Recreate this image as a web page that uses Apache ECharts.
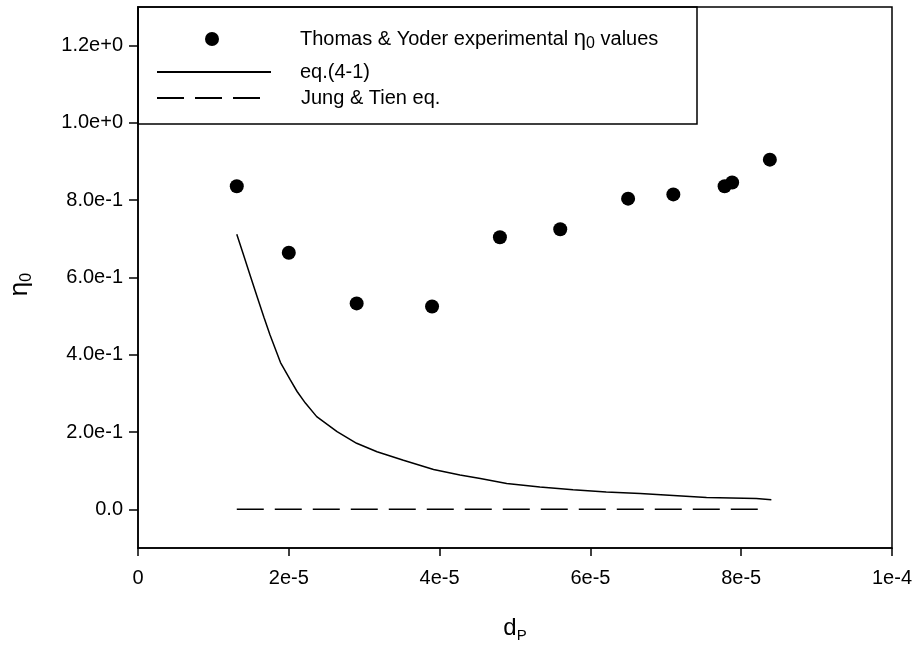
<!DOCTYPE html>
<html>
<head>
<meta charset="utf-8">
<script src="https://cdn.jsdelivr.net/npm/echarts@6/dist/echarts.min.js"></script>
<style>html,body{margin:0;padding:0;background:#fff}#c{width:914px;height:646px}</style>
</head>
<body>
<div id="c"></div>
<script>
// ---- data ----
const expX = [1.31e-5, 2.0e-5, 2.9e-5, 3.9e-5, 4.8e-5, 5.6e-5, 6.5e-5, 7.1e-5, 7.78e-5, 7.88e-5, 8.38e-5];
const expY = [0.836, 0.664, 0.533, 0.525, 0.704, 0.725, 0.804, 0.815, 0.836, 0.846, 0.905];

const eqX = [1.31e-5, 1.40e-5, 1.49e-5, 1.58e-5, 1.67e-5, 1.75e-5, 1.89e-5, 2.02e-5, 2.11e-5, 2.22e-5, 2.37e-5, 2.64e-5, 2.90e-5, 3.17e-5, 3.52e-5, 3.92e-5, 4.27e-5, 4.54e-5, 4.89e-5, 5.33e-5, 5.77e-5, 6.21e-5, 6.66e-5, 7.10e-5, 7.54e-5, 8.20e-5, 8.40e-5];
const eqY = [0.712, 0.658, 0.604, 0.550, 0.497, 0.452, 0.380, 0.335, 0.305, 0.275, 0.240, 0.201, 0.171, 0.149, 0.127, 0.103, 0.089, 0.080, 0.067, 0.058, 0.051, 0.045, 0.041, 0.036, 0.031, 0.028, 0.025];

const jtX = [1.31e-5, 2.0e-5, 3.0e-5, 4.0e-5, 5.0e-5, 6.0e-5, 7.0e-5, 8.28e-5];
const jtY = [0.0, 0.0, 0.0, 0.0, 0.0, 0.0, 0.0, 0.0];

const xTickValues = [0, 2e-5, 4e-5, 6e-5, 8e-5, 1e-4];
const xTickLabels = ['0', '2e-5', '4e-5', '6e-5', '8e-5', '1e-4'];
const yTickValues = [0, 0.2, 0.4, 0.6, 0.8, 1.0, 1.2];
const yTickLabels = ['0.0', '2.0e-1', '4.0e-1', '6.0e-1', '8.0e-1', '1.0e+0', '1.2e+0'];

const seriesNames = ['Thomas & Yoder experimental η0 values', 'eq.(4-1)', 'Jung & Tien eq.'];

// ---- chart ----
const zip = (a, b) => a.map((v, i) => [v, b[i]]);
function lookup(vals, labels, v) {
  for (let i = 0; i < vals.length; i++) if (Math.abs(vals[i] - v) < 1e-9 * Math.max(1, Math.abs(vals[i])) + 1e-12) return labels[i];
  return '';
}
const FONT = '"Liberation Sans", Arial, sans-serif';
const FS = 20;
const chart = echarts.init(document.getElementById('c'), null, {renderer: 'canvas'});

function legendText(padLeft) {
  return {color: '#000', fontFamily: FONT, fontSize: FS, padding: [0, 0, 0, padLeft],
    rich: {
      t: {fontFamily: FONT, fontSize: FS, color: '#000'},
      eta: {fontFamily: FONT, fontSize: 22, color: '#000'},
      sub: {fontFamily: FONT, fontSize: 16, color: '#000', padding: [10, 0, 0, 0]}
    }};
}

chart.setOption({
  animation: false,
  backgroundColor: '#fff',
  grid: {left: 138, right: 22, top: 7, bottom: 98, containLabel: false, outerBoundsMode: 'none',
    show: true, borderColor: '#000', borderWidth: 1.5, backgroundColor: 'transparent'},
  graphic: [{
    type: 'rect', z: 1,
    shape: {x: 138, y: 7, width: 559, height: 117},
    style: {fill: 'none', stroke: '#000', lineWidth: 1.5}
  }],
  legend: [
    {data: [seriesNames[0]], left: 205, top: 28, itemWidth: 14, itemHeight: 30, padding: 0,
     itemStyle: {opacity: 1}, textStyle: legendText(76),
     formatter: () => '{t|Thomas & Yoder experimental }{eta|η}{sub|0}{t| values}'},
    {data: [seriesNames[1]], left: 156, top: 60, itemWidth: 114, itemHeight: 30, padding: 0,
     itemStyle: {opacity: 0}, textStyle: legendText(24)},
    {data: [seriesNames[2]], left: 156, top: 86, itemWidth: 103, itemHeight: 30, padding: 0,
     itemStyle: {opacity: 0}, textStyle: legendText(36)}
  ],
  xAxis: {
    type: 'value', min: 0, max: 1e-4, interval: 2e-5,
    name: '{d|d}{s|P}', nameLocation: 'middle', nameGap: 66,
    nameTextStyle: {rich: {d: {fontFamily: FONT, fontSize: 24, color: '#000'}, s: {fontFamily: FONT, fontSize: 15, color: '#000', padding: [14, 0, 0, 0]}}},
    axisLine: {show: true, onZero: false, lineStyle: {color: '#000', width: 1.5}},
    axisTick: {show: true, inside: false, length: 8, lineStyle: {color: '#000', width: 1.5}},
    axisLabel: {color: '#000', fontFamily: FONT, fontSize: FS, margin: 20,
      formatter: v => lookup(xTickValues, xTickLabels, v)},
    splitLine: {show: false}
  },
  yAxis: {
    type: 'value', min: -0.1, max: 1.3,
    name: '{e|η}{s|0}', nameLocation: 'middle', nameGap: 103, nameRotate: 90,
    nameTextStyle: {padding: [0, 14, 0, 0], rich: {e: {fontFamily: FONT, fontSize: 26, color: '#000'}, s: {fontFamily: FONT, fontSize: 16, color: '#000', padding: [14, 0, 0, 0]}}},
    axisLine: {show: true, onZero: false, lineStyle: {color: '#000', width: 1.5}},
    axisTick: {show: true, inside: false, length: 9, customValues: yTickValues, lineStyle: {color: '#000', width: 1.5}},
    axisLabel: {color: '#000', fontFamily: FONT, fontSize: FS, margin: 15, customValues: yTickValues,
      formatter: v => lookup(yTickValues, yTickLabels, v)},
    splitLine: {show: false}
  },
  series: [
    {name: seriesNames[0], type: 'scatter', data: zip(expX, expY), symbol: 'circle', symbolSize: 14,
     itemStyle: {color: '#000', opacity: 1}, z: 3},
    {name: seriesNames[1], type: 'line', data: zip(eqX, eqY), symbol: 'none', showSymbol: false,
     lineStyle: {color: '#000', width: 1.5}, itemStyle: {color: '#000'}, z: 2},
    {name: seriesNames[2], type: 'line', data: zip(jtX, jtY), symbol: 'none', showSymbol: false,
     lineStyle: {color: '#000', width: 1.5, type: [27, 11]}, itemStyle: {color: '#000'}, z: 2}
  ]
});
</script>
</body>
</html>
